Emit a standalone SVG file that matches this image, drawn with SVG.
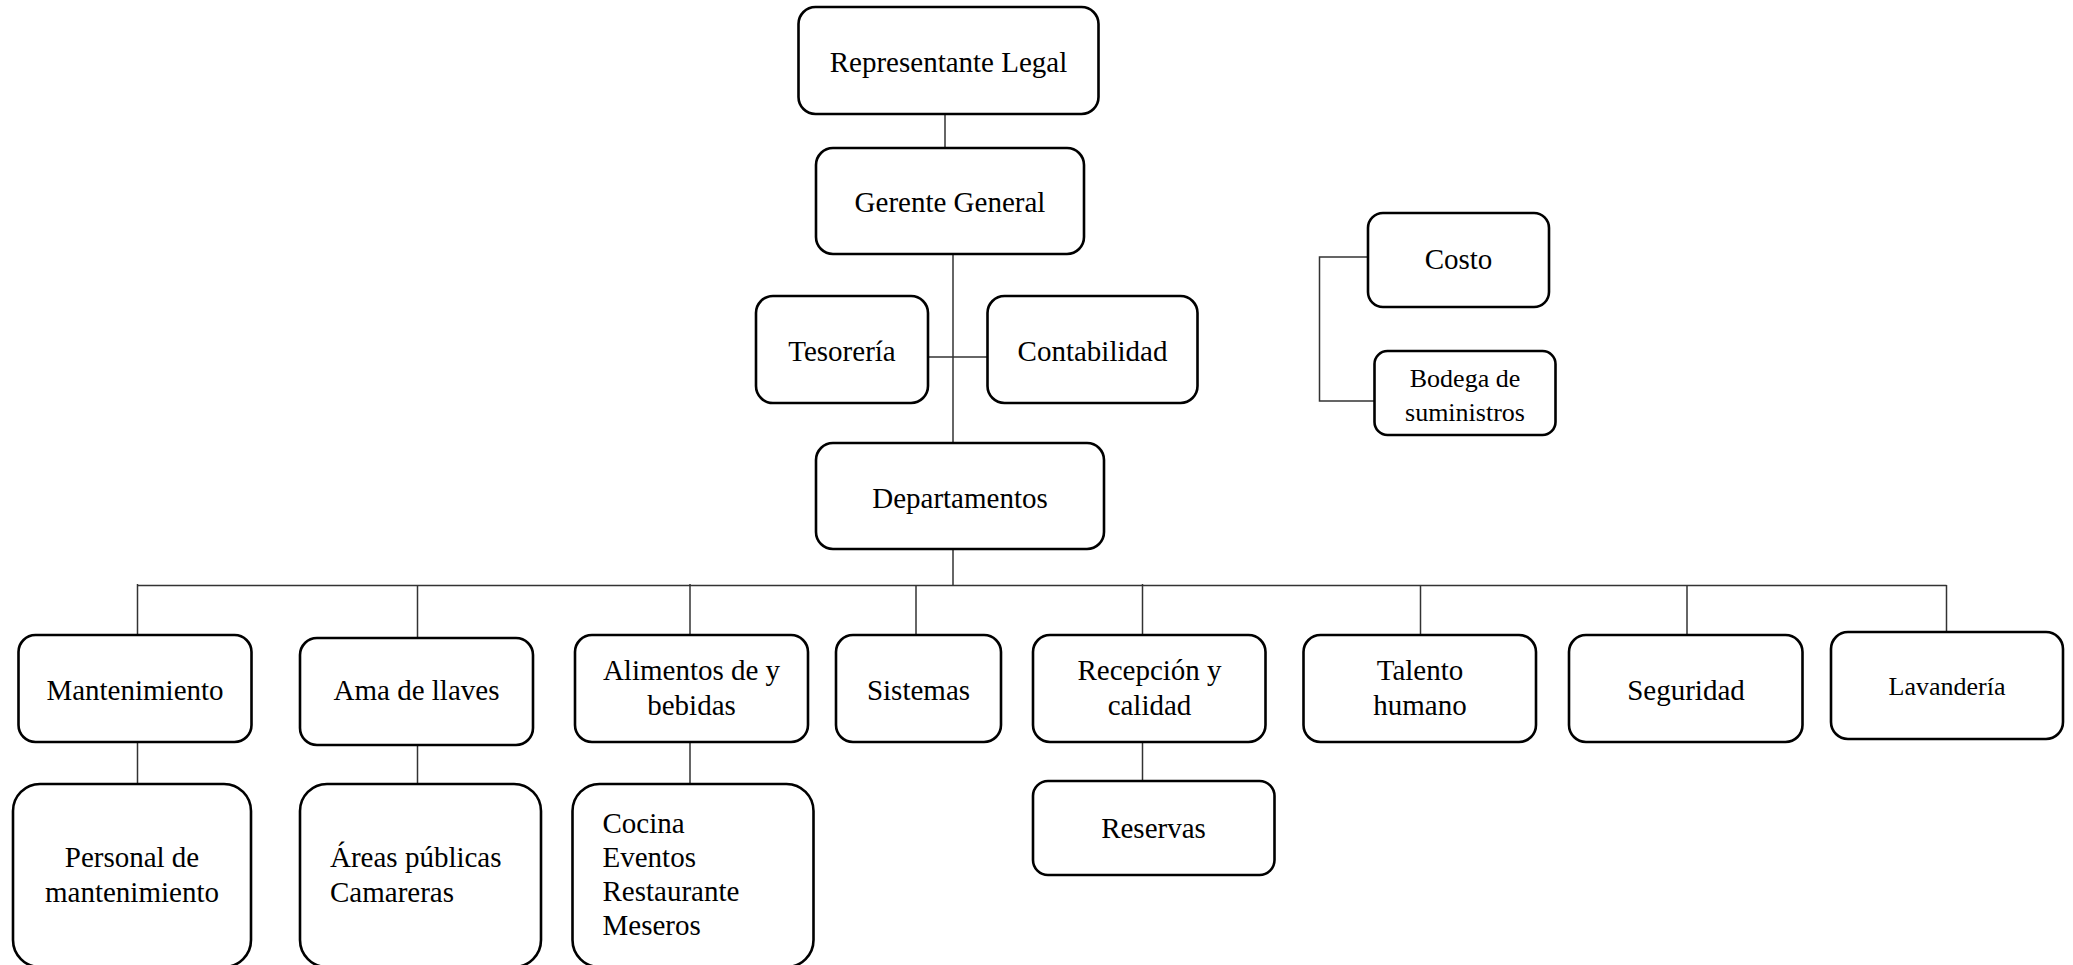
<svg xmlns="http://www.w3.org/2000/svg" width="2073" height="965" viewBox="0 0 2073 965">
<style>
.box{fill:#fff;stroke:#000;stroke-width:2.6}
.ln{stroke:#333;stroke-width:1.5;fill:none}
text{font-family:"Liberation Serif","Times New Roman",serif;font-size:29px;fill:#000}
.c{text-anchor:middle}
.s{font-size:26px}
</style>
<rect width="2073" height="965" fill="#fff"/>
<g id="connectors">
<line class="ln" x1="945" y1="114" x2="945" y2="148"/>
<line class="ln" x1="953" y1="254" x2="953" y2="443"/>
<line class="ln" x1="928" y1="357" x2="987" y2="357"/>
<line class="ln" x1="953" y1="549" x2="953" y2="586"/>
<line class="ln" x1="137.5" y1="585.5" x2="1946.5" y2="585.5"/>
<line class="ln" x1="137.5" y1="584" x2="137.5" y2="635"/>
<line class="ln" x1="417.5" y1="585" x2="417.5" y2="638"/>
<line class="ln" x1="690" y1="584" x2="690" y2="635"/>
<line class="ln" x1="916" y1="585" x2="916" y2="635"/>
<line class="ln" x1="1142.5" y1="584" x2="1142.5" y2="635"/>
<line class="ln" x1="1420.5" y1="585" x2="1420.5" y2="635"/>
<line class="ln" x1="1687" y1="585" x2="1687" y2="635"/>
<line class="ln" x1="1946.5" y1="585" x2="1946.5" y2="636"/>
<line class="ln" x1="137.5" y1="743" x2="137.5" y2="784"/>
<line class="ln" x1="417.5" y1="741" x2="417.5" y2="784"/>
<line class="ln" x1="690" y1="742" x2="690" y2="784"/>
<line class="ln" x1="1142.5" y1="743" x2="1142.5" y2="781"/>
<polyline class="ln" points="1368,257 1319.5,257 1319.5,401 1375,401"/>
</g>
<g id="representante"><rect class="box" x="798.5" y="7" width="300" height="107" rx="17"/><text class="c" x="948.5" y="72">Representante Legal</text></g>
<g id="gerente"><rect class="box" x="816" y="148" width="268" height="106" rx="17"/><text class="c" x="950" y="212">Gerente General</text></g>
<g id="tesoreria"><rect class="box" x="756" y="296" width="172" height="107" rx="17"/><text class="c" x="842" y="361">Tesorería</text></g>
<g id="contabilidad"><rect class="box" x="987.5" y="296" width="210" height="107" rx="17"/><text class="c" x="1092.5" y="361">Contabilidad</text></g>
<g id="departamentos"><rect class="box" x="816" y="443" width="288" height="106" rx="17"/><text class="c" x="960" y="508">Departamentos</text></g>
<g id="costo"><rect class="box" x="1368" y="213" width="181" height="94" rx="15"/><text class="c" x="1458.5" y="269">Costo</text></g>
<g id="bodega"><rect class="box" x="1374.5" y="351" width="181" height="84" rx="13"/><text class="c s" x="1465" y="387">Bodega de</text><text class="c s" x="1465" y="421">suministros</text></g>
<g id="mantenimiento"><rect class="box" x="18.5" y="635" width="233" height="107" rx="17"/><text class="c" x="135" y="700">Mantenimiento</text></g>
<g id="amadellaves"><rect class="box" x="300" y="638" width="233" height="107" rx="17"/><text class="c" x="416.5" y="700">Ama de llaves</text></g>
<g id="alimentos"><rect class="box" x="575" y="635" width="233" height="107" rx="17"/><text class="c" x="691.5" y="680">Alimentos de y</text><text class="c" x="691.5" y="715">bebidas</text></g>
<g id="sistemas"><rect class="box" x="836" y="635" width="165" height="107" rx="17"/><text class="c" x="918.5" y="700">Sistemas</text></g>
<g id="recepcion"><rect class="box" x="1033" y="635" width="232.5" height="107" rx="17"/><text class="c" x="1149.5" y="680">Recepción y</text><text class="c" x="1149.5" y="715">calidad</text></g>
<g id="talento"><rect class="box" x="1303.5" y="635" width="232.5" height="107" rx="17"/><text class="c" x="1420" y="680">Talento</text><text class="c" x="1420" y="715">humano</text></g>
<g id="seguridad"><rect class="box" x="1569" y="635" width="233.5" height="107" rx="17"/><text class="c" x="1686" y="700">Seguridad</text></g>
<g id="lavanderia"><rect class="box" x="1831" y="632" width="232" height="107" rx="17"/><text class="c s" x="1947" y="695">Lavandería</text></g>
<g id="personal"><rect class="box" x="13" y="784" width="238" height="183" rx="27"/><text class="c" x="132" y="867">Personal de</text><text class="c" x="132" y="902">mantenimiento</text></g>
<g id="areas"><rect class="box" x="300" y="784" width="241" height="183" rx="27"/><text x="330" y="867">Áreas públicas</text><text x="330" y="902">Camareras</text></g>
<g id="cocina"><rect class="box" x="572.5" y="784" width="241" height="183" rx="27"/><text x="602.5" y="833">Cocina</text><text x="602.5" y="867">Eventos</text><text x="602.5" y="901">Restaurante</text><text x="602.5" y="935">Meseros</text></g>
<g id="reservas"><rect class="box" x="1033" y="781" width="241.5" height="94" rx="15"/><text class="c" x="1153.5" y="838">Reservas</text></g>
</svg>
